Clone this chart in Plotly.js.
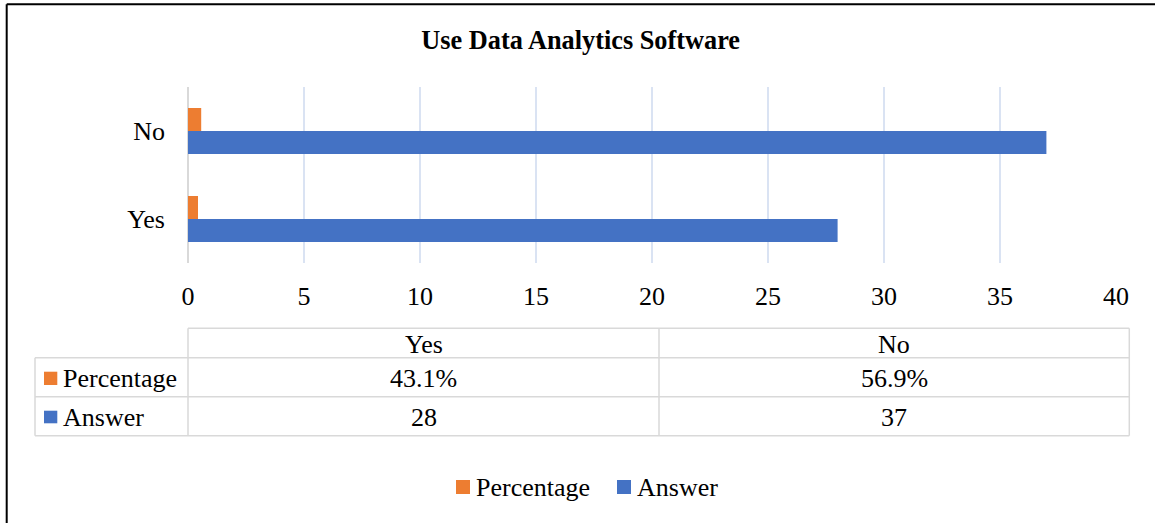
<!DOCTYPE html>
<html>
<head>
<meta charset="utf-8">
<script src="https://cdn.plot.ly/plotly-3.0.1.min.js"></script>
<style>
html,body{margin:0;padding:0;background:#fff;}
#chart{width:1155px;height:523px;}
</style>
</head>
<body>
<div id="chart"></div>
<script>
// ---- data ----
var categories = ["Yes", "No"];
var answerValues = [28, 37];
var percentageValues = [0.431, 0.569];
var seriesNames = ["Percentage", "Answer"];
var xTickValues = [0, 5, 10, 15, 20, 25, 30, 35, 40];

// ---- styling / layout helpers ----
var W = 1155, H = 523;
var M = {l: 188, r: 39, t: 87, b: 260};
var PW = W - M.l - M.r, PH = H - M.t - M.b;
function px(x){ return (x - M.l) / PW; }
function py(y){ return (H - M.b - y) / PH; }
var FONT = "Liberation Serif, Times New Roman, serif";
var ORANGE = "#ED7D31", BLUE = "#4472C4";
var GRID = "#d9d9d9";

var traces = [
  {type: "bar", orientation: "h", name: seriesNames[1], y: categories, x: answerValues,
   marker: {color: BLUE}, hoverinfo: "x+y+name"},
  {type: "bar", orientation: "h", name: seriesNames[0], y: categories, x: percentageValues,
   marker: {color: ORANGE}, hoverinfo: "x+y+name"}
];

var shapes = [];
var annotations = [];
function line(x0, y0, x1, y1, color, width){
  shapes.push({type: "line", xref: "paper", yref: "paper",
    x0: px(x0), y0: py(y0), x1: px(x1), y1: py(y1),
    line: {color: color, width: width}});
}
function rect(x0, y0, x1, y1, color){
  shapes.push({type: "rect", xref: "paper", yref: "paper",
    x0: px(x0), y0: py(y0), x1: px(x1), y1: py(y1),
    line: {width: 0}, fillcolor: color});
}
function label(x, y, text, anchor){
  annotations.push({xref: "paper", yref: "paper", x: px(x), y: py(y), text: text,
    showarrow: false, xanchor: anchor || "center", yanchor: "middle",
    font: {family: FONT, size: 26, color: "#000"}});
}

// outer frame (black, left and top)
line(6.7, 4.2, W + 5, 4.2, "#000", 2);
line(6.7, 4.2, 6.7, H + 5, "#000", 2);

// data table
var tL = 35, tC = 188, tM = 659, tR = 1129.3;
var rTop = 328.3, r1 = 357.7, r2 = 396.7, r3 = 435.7;
line(tC, rTop, tR, rTop, GRID, 1.5);
line(tL, r1, tR, r1, GRID, 1.5);
line(tL, r2, tR, r2, GRID, 1.5);
line(tL, r3, tR, r3, GRID, 1.5);
line(tL, r1, tL, r3, GRID, 1.5);
line(tC, rTop, tC, r3, GRID, 1.5);
line(tM, rTop, tM, r3, GRID, 1.5);
line(tR, rTop, tR, r3, GRID, 1.5);

var colCenters = [(tC + tM) / 2, (tM + tR) / 2];
categories.forEach(function(c, i){
  label(colCenters[i], 344, c);
  label(colCenters[i], 378.5, (percentageValues[i] * 100).toFixed(1) + "%");
  label(colCenters[i], 417, String(answerValues[i]));
});
// row headers with keys
rect(44, 371.7, 57.3, 385, ORANGE);
label(61, 378.5, seriesNames[0], "left");
rect(44, 410.7, 57.3, 423.3, BLUE);
label(61, 417, seriesNames[1], "left");

// legend
rect(456, 480, 470, 494, ORANGE);
label(474, 487.5, seriesNames[0], "left");
rect(617, 480, 631, 494, BLUE);
label(635, 487.5, seriesNames[1], "left");

var layout = {
  width: W, height: H,
  margin: M,
  paper_bgcolor: "#fff", plot_bgcolor: "#fff",
  font: {family: FONT, size: 26, color: "#000"},
  showlegend: false,
  barmode: "group",
  bargap: 0.477,
  bargroupgap: 0,
  title: {text: "<b>Use Data Analytics Software</b>", xref: "container", yref: "container",
          x: 580.7 / W, y: 1 - 40 / H, xanchor: "center", yanchor: "middle",
          font: {family: FONT, size: 26.3, color: "#000"}},
  xaxis: {range: [0, 40], tickvals: xTickValues, ticks: "", showline: false,
          showgrid: true, gridcolor: "#dae3f3", gridwidth: 1.3,
          zeroline: true, zerolinecolor: GRID, zerolinewidth: 1.5,
          ticklabelstandoff: 15, fixedrange: true,
          tickfont: {family: FONT, size: 26, color: "#000"}},
  yaxis: {type: "category", categoryarray: categories, categoryorder: "array",
          ticks: "", showline: false, showgrid: false, zeroline: false,
          ticklabelstandoff: 22, fixedrange: true,
          tickfont: {family: FONT, size: 26, color: "#000"}},
  shapes: shapes,
  annotations: annotations
};

Plotly.newPlot("chart", traces, layout, {displayModeBar: false, staticPlot: true});
</script>
</body>
</html>
